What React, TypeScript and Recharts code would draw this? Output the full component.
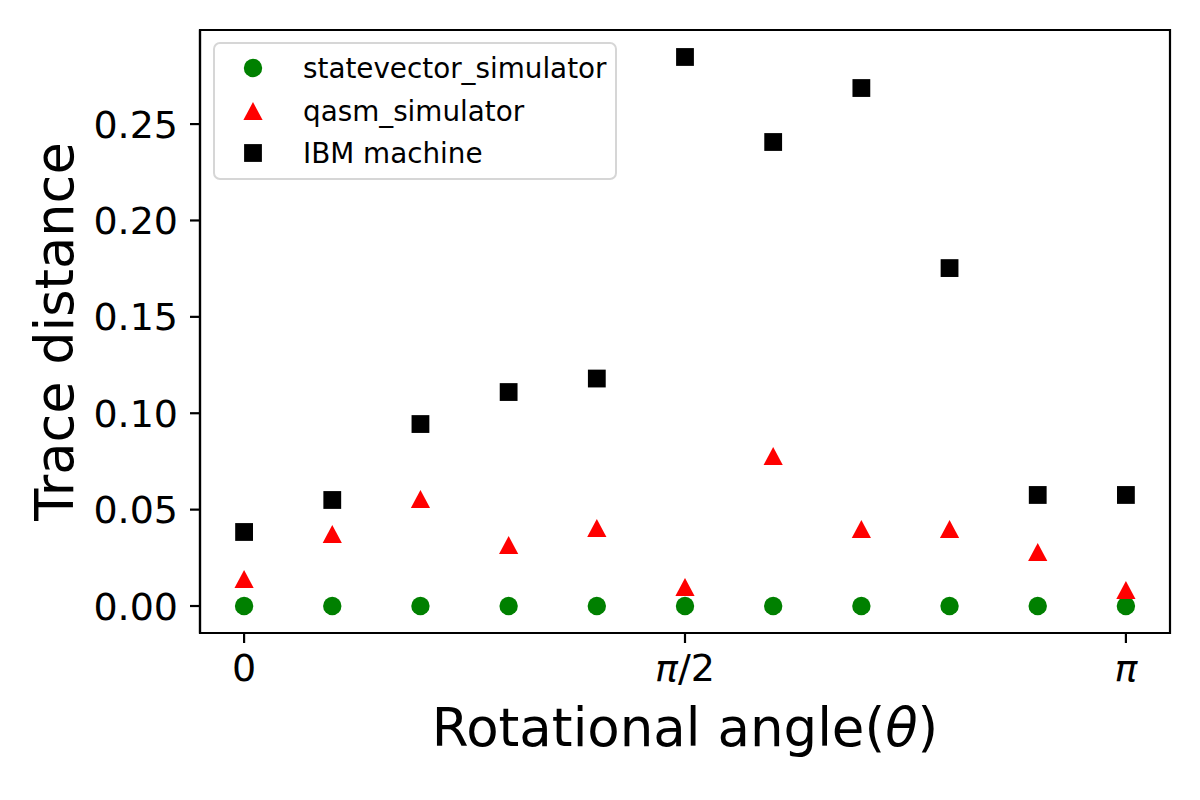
import React from 'react';
import { ScatterChart, Scatter, XAxis, YAxis, ReferenceArea, Legend, Label } from 'recharts';

// x positions are multiples of pi/10 (0 .. 10 -> 0 .. pi)
const angleSteps = [0, 1, 2, 3, 4, 5, 6, 7, 8, 9, 10];
const statevectorValues = [0, 0, 0, 0, 0, 0, 0, 0, 0, 0, 0];
const qasmValues = [0.014, 0.0373, 0.0555, 0.0316, 0.0405, 0.0099, 0.0778, 0.04, 0.04, 0.028, 0.0083];
const ibmValues = [0.0384, 0.055, 0.0944, 0.111, 0.118, 0.2848, 0.2407, 0.2687, 0.1753, 0.0576, 0.0576];

const seriesNames = ['statevector_simulator', 'qasm_simulator', 'IBM machine'];
const xTicks = [0, 5, 10];
const xTickLabels = ['0', 'π/2', 'π'];
const yTicks = [0, 0.05, 0.1, 0.15, 0.2, 0.25];

const FONT = '"DejaVu Sans", sans-serif';
const X_DOMAIN: [number, number] = [-0.5, 10.5];
const Y_DOMAIN: [number, number] = [-0.014, 0.2988];

const toPoints = (vals: number[]) => angleSteps.map((s, i) => ({ x: s, y: vals[i] }));

const circleShape = (p: any) => <circle cx={p.cx} cy={p.cy} r={9.2} fill="#008000" />;
const triangleShape = (p: any) => (
  <polygon
    points={`${p.cx},${p.cy - 9} ${p.cx - 9.6},${p.cy + 9} ${p.cx + 9.6},${p.cy + 9}`}
    fill="#ff0000"
  />
);
const squareShape = (p: any) => (
  <rect x={p.cx - 8.9} y={p.cy - 8.9} width={17.8} height={17.8} fill="#000000" />
);

const XTick = (props: any) => {
  const { x, y, payload } = props;
  const label = xTickLabels[xTicks.indexOf(payload.value)] ?? '';
  return (
    <text x={x} y={y} dy="0.71em" textAnchor="middle" fontSize={38} fontFamily={FONT} fill="#000">
      {label.split('').map((ch: string, i: number) => (
        <tspan key={i} fontStyle={ch === 'π' ? 'italic' : 'normal'}>{ch}</tspan>
      ))}
    </text>
  );
};

const LegendBox = () => {
  const rows = [26, 69, 111];
  return (
    <svg width={406} height={140}>
      <rect x={1} y={1} width={402} height={136} rx={6} fill="#ffffff" fillOpacity={0.8} stroke="#d6d6d6" strokeWidth={2} />
      <circle cx={40} cy={rows[0]} r={9.2} fill="#008000" />
      <polygon points={`40,${rows[1] - 9} 30.4,${rows[1] + 9} 49.6,${rows[1] + 9}`} fill="#ff0000" />
      <rect x={31.1} y={rows[2] - 8.9} width={17.8} height={17.8} fill="#000000" />
      {seriesNames.map((n, i) => (
        <text key={n} x={90} y={rows[i] + 9.5} fontSize={27.8} fontFamily={FONT} fill="#000">{n}</text>
      ))}
    </svg>
  );
};

const YLabel = (props: any) => {
  const vb = props.viewBox;
  const cy = vb.y + vb.height / 2;
  return (
    <text x={73} y={cy} transform={`rotate(-90, 73, ${cy})`} textAnchor="middle" fontSize={52.5} fontFamily={FONT} fill="#000">
      Trace distance
    </text>
  );
};

const XLabel = (props: any) => {
  const vb = props.viewBox;
  const cx = vb.x + vb.width / 2;
  return (
    <text x={cx} y={746} textAnchor="middle" fontSize={53} fontFamily={FONT} fill="#000">
      Rotational angle(<tspan fontStyle="italic">θ</tspan>)
    </text>
  );
};

export default function App() {
  return (
    <div style={{ position: 'absolute', left: 0, top: 0, width: 1200, height: 800, background: '#fff' }}>
      <ScatterChart width={1200} height={800} margin={{ top: 30, right: 30, bottom: 0, left: 0 }}>
        <XAxis
          type="number"
          dataKey="x"
          domain={X_DOMAIN}
          ticks={xTicks}
          allowDataOverflow
          height={167}
          tickSize={10}
          tickMargin={11}
          tick={<XTick />}
          stroke="#000"
          strokeWidth={2.2}
          tickLine={{ stroke: '#000', strokeWidth: 2.2 }}
        >
          <Label content={<XLabel />} />
        </XAxis>
        <YAxis
          type="number"
          dataKey="y"
          domain={Y_DOMAIN}
          ticks={yTicks}
          allowDataOverflow
          width={200}
          tickSize={10}
          tickMargin={12}
          tickFormatter={(v: number) => v.toFixed(2)}
          tick={{ fontSize: 38, fontFamily: FONT, fill: '#000' }}
          stroke="#000"
          strokeWidth={2.2}
          tickLine={{ stroke: '#000', strokeWidth: 2.2 }}
        >
          <Label content={<YLabel />} />
        </YAxis>
        <ReferenceArea
          x1={X_DOMAIN[0]}
          x2={X_DOMAIN[1]}
          y1={Y_DOMAIN[0]}
          y2={Y_DOMAIN[1]}
          fill="none"
          stroke="#000"
          strokeWidth={2.2}
        />
        <Legend
          layout="vertical"
          align="center"
          verticalAlign="middle"
          content={<LegendBox />}
          wrapperStyle={{ left: 213, top: 42, width: 406, height: 140 }}
        />
        <Scatter name={seriesNames[0]} data={toPoints(statevectorValues)} shape={circleShape} isAnimationActive={false} />
        <Scatter name={seriesNames[1]} data={toPoints(qasmValues)} shape={triangleShape} isAnimationActive={false} />
        <Scatter name={seriesNames[2]} data={toPoints(ibmValues)} shape={squareShape} isAnimationActive={false} />
      </ScatterChart>
    </div>
  );
}
